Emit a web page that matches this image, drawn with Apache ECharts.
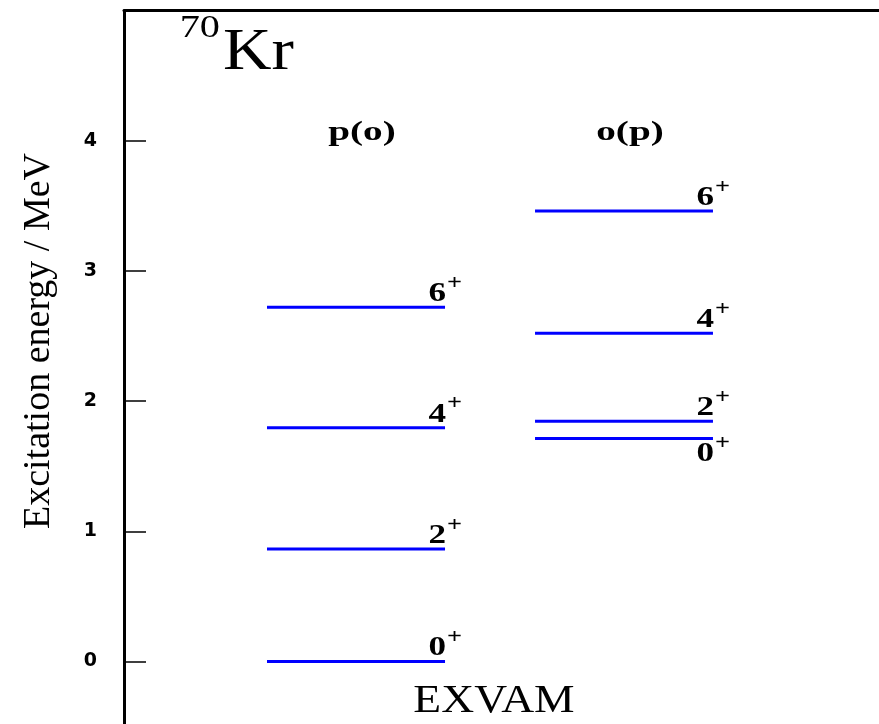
<!DOCTYPE html>
<html>
<head>
<meta charset="utf-8">
<script src="https://cdn.jsdelivr.net/npm/echarts@6/dist/echarts.min.js"></script>
<style>
  html, body { margin: 0; padding: 0; background: #fff; }
  #chart { width: 879px; height: 724px; }
</style>
</head>
<body>
<div id="chart"></div>
<script>
// Level scheme of 70Kr (EXVAM): two bands of states
const columns = ['p(o)', 'o(p)'];
const spinsPO = ['0', '2', '4', '6'];
const energiesPO = [0.0, 0.864, 1.795, 2.720];
const spinsOP = ['0', '2', '4', '6'];
const energiesOP = [1.713, 1.845, 2.521, 3.461];
const yTicks = [0, 1, 2, 3, 4];

// horizontal extent of each band on the hidden x scale (0..10)
const colSpans = [[1.894, 4.252], [5.444, 7.801]];

const SERIF = '"Liberation Serif", "Times New Roman", serif';
const LEVEL_COLOR = '#0000ff';

function levelData(colIdx, spins, energies) {
  return energies.map((e, i) => {
    // label goes under the line when the next level sits too close above it
    const next = energies.filter(v => v > e);
    const crowded = next.length && (Math.min(...next) - e) < 0.2;
    return { value: [colIdx, e, spins[i], crowded ? 1 : 0] };
  });
}

const levels = levelData(0, spinsPO, energiesPO).concat(levelData(1, spinsOP, energiesOP));

function txt(x, y, text, font, align, extra) {
  return Object.assign({
    type: 'text', x: x, y: y,
    style: { text: text, font: font, fill: '#000',
             align: align, verticalAlign: 'middle',
             textAlign: align, textVerticalAlign: 'middle' }
  }, extra || {});
}

function renderLevel(params, api) {
  const col = api.value(0);
  const e = api.value(1);
  const spin = levels[params.dataIndex].value[2];
  const below = levels[params.dataIndex].value[3] === 1;
  const span = colSpans[col];
  const p0 = api.coord([span[0], e]);
  const p1 = api.coord([span[1], e]);
  const dy = below ? 16 : -13;
  return {
    type: 'group',
    children: [
      { type: 'line', shape: { x1: p0[0], y1: p0[1], x2: p1[0], y2: p1[1] },
        style: { stroke: LEVEL_COLOR, lineWidth: 3 } },
      txt(p1[0] + 1, p1[1] + dy, spin, 'bold 27px ' + SERIF, 'right', { scaleX: 1.3 }),
      txt(p1[0] + 2, p1[1] + dy - 11, '+', 'bold 22px ' + SERIF, 'left', { scaleX: 1.2 })
    ]
  };
}

function renderHeader(params, api) {
  const col = api.value(0);
  const span = colSpans[col];
  const c = api.coord([(span[0] + span[1]) / 2, 0]);
  return txt(c[0] + 6, params.coordSys.y + 122, columns[col], 'bold 28px ' + SERIF, 'center', { scaleX: 1.4 });
}

const chart = echarts.init(document.getElementById('chart'), null, { renderer: 'canvas' });

chart.setOption({
  animation: false,
  backgroundColor: '#fff',
  grid: { left: 124, right: 0, top: 10.5, bottom: 0 },
  xAxis: {
    type: 'value', min: 0, max: 10, position: 'top',
    axisLine: { show: true, onZero: false, lineStyle: { color: '#000', width: 3 } },
    axisTick: { show: false }, axisLabel: { show: false }, splitLine: { show: false }
  },
  yAxis: {
    type: 'value', min: -0.48, max: 5,
    axisLine: { show: true, onZero: false, lineStyle: { color: '#000', width: 3 } },
    axisTick: { show: true, inside: true, length: 22, customValues: yTicks,
                lineStyle: { color: '#000', width: 1.5 } },
    axisLabel: { show: true, customValues: yTicks, margin: 27, color: '#000',
                 fontFamily: '"DejaVu Sans", sans-serif',
                 fontWeight: 'bold', fontSize: 19 },
    splitLine: { show: false }
  },
  graphic: [
    txt(220, 29, '70', '31px ' + SERIF, 'right', { scaleX: 1.3 }),
    txt(223, 53, 'Kr', '60px ' + SERIF, 'left', { scaleX: 1.12 }),
    txt(39, 341, 'Excitation energy / MeV', '38px ' + SERIF, 'center', { rotation: Math.PI / 2 }),
    txt(494, 701, 'EXVAM', '40px ' + SERIF, 'center', { scaleX: 1.14 })
  ],
  series: [
    { type: 'custom', coordinateSystem: 'cartesian2d', renderItem: renderLevel,
      data: levels, clip: false, silent: true },
    { type: 'custom', coordinateSystem: 'cartesian2d', renderItem: renderHeader,
      data: columns.map((c, i) => [i, 0]), clip: false, silent: true }
  ]
});
</script>
</body>
</html>
